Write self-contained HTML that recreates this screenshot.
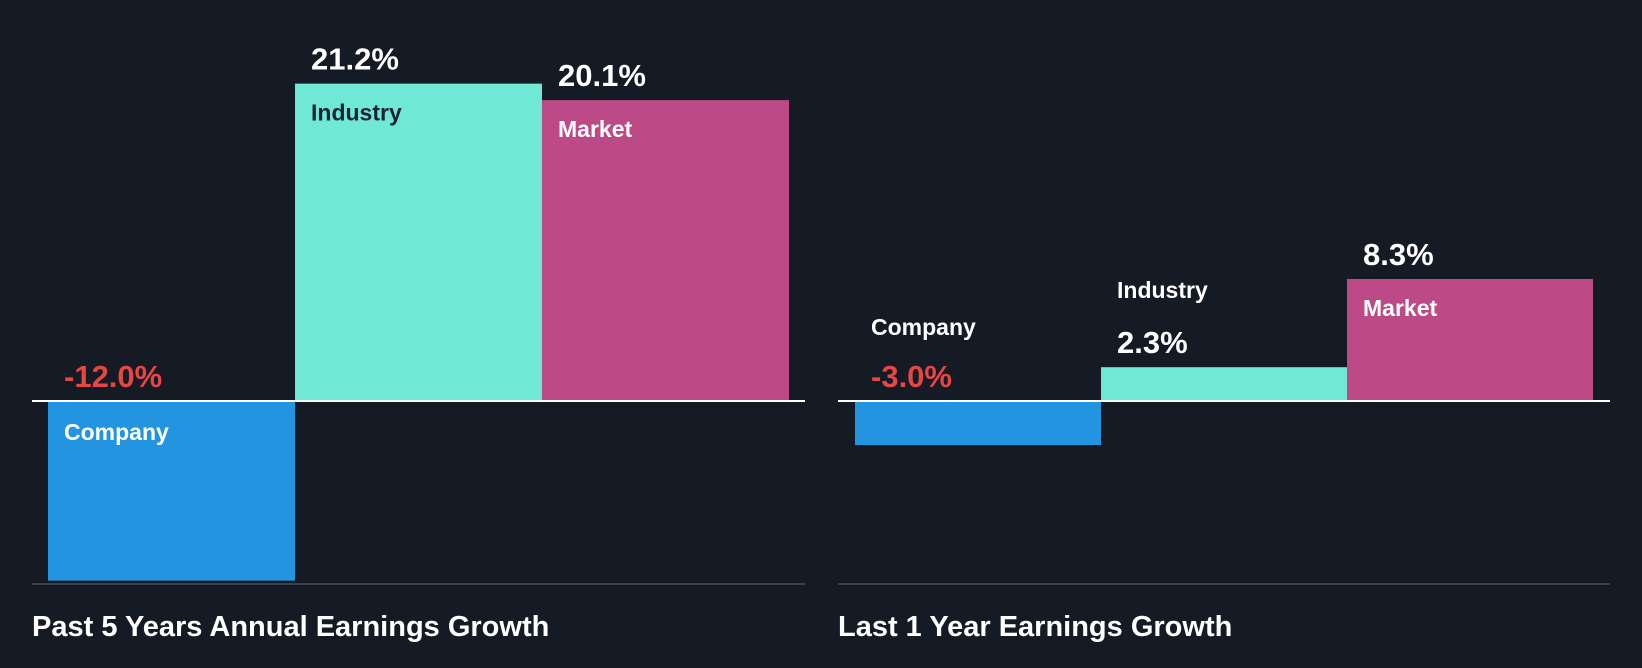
<!DOCTYPE html>
<html><head><meta charset="utf-8"><style>
html,body{margin:0;padding:0;background:#151b24;}
svg{display:block;font-family:"Liberation Sans",sans-serif;font-weight:bold;}
</style></head><body>
<svg id="chart" width="1642" height="668" viewBox="0 0 1642 668">
<rect width="1642" height="668" fill="#151b24"/>
<g id="panels"></g>
<text x="32" y="636" fill="#ffffff" font-size="29">Past 5 Years Annual Earnings Growth</text>
<text x="838" y="636" fill="#ffffff" font-size="29">Last 1 Year Earnings Growth</text>
</svg>
<script>
const categories = ["Company", "Industry", "Market"];
const past5Values = [-12.0, 21.2, 20.1];
const last1Values = [-3.0, 2.3, 8.3];
const valueLabels5 = ["-12.0%", "21.2%", "20.1%"];
const valueLabels1 = ["-3.0%", "2.3%", "8.3%"];
const colors = ["#2394e0", "#70e8d6", "#bb4a86"];
const NS = "http://www.w3.org/2000/svg";
const g = document.getElementById("panels");
function mk(tag, attrs) { const e = document.createElementNS(NS, tag); for (const k in attrs) e.setAttribute(k, attrs[k]); g.appendChild(e); return e; }
function panel(prefix, x0, x1, barX0, barW, pxPerUnit, values, labels) {
  const zeroY = 401, bottomY = 584;
  const y = v => zeroY - v * pxPerUnit;
  const bl = mk("line", {x1: x0, x2: x1, y1: bottomY, y2: bottomY, stroke: "#3c424b", "stroke-width": 2});
  
  
  values.forEach((v, i) => {
    const bx = barX0 + i * barW;
    const top = Math.min(y(v), zeroY), h = Math.abs(y(v) - zeroY);
    const r = mk("rect", {x: bx, y: top, width: barW, height: h, fill: colors[i]});
    
    
    const tx = bx + 16;
    let valY, catY, catFill = i === 1 ? "#1b2230" : "#ffffff";
    if (v < 0) { valY = zeroY - 14; catY = h > 50 ? zeroY + 39 : zeroY - 66; }
    else if (h > 60) { valY = top - 14; catY = top + 37; }
    else { valY = top - 14; catY = top - 69; catFill = "#ffffff"; }
    const vt = mk("text", {x: tx, y: valY, fill: v < 0 ? "#e84545" : "#ffffff", "font-size": 31});
    vt.textContent = labels[i];
    
    
    const ct = mk("text", {x: tx, y: catY, fill: catFill, "font-size": 23});
    ct.textContent = categories[i];
    
    
  });
  const zl = mk("line", {x1: x0, x2: x1, y1: zeroY, y2: zeroY, stroke: "#ffffff", "stroke-width": 2});
  
  
}
panel("past5", 32, 805, 48, 247, 14.97, past5Values, valueLabels5);
panel("last1", 838, 1610, 855, 246, 14.7, last1Values, valueLabels1);
</script>
</body></html>
